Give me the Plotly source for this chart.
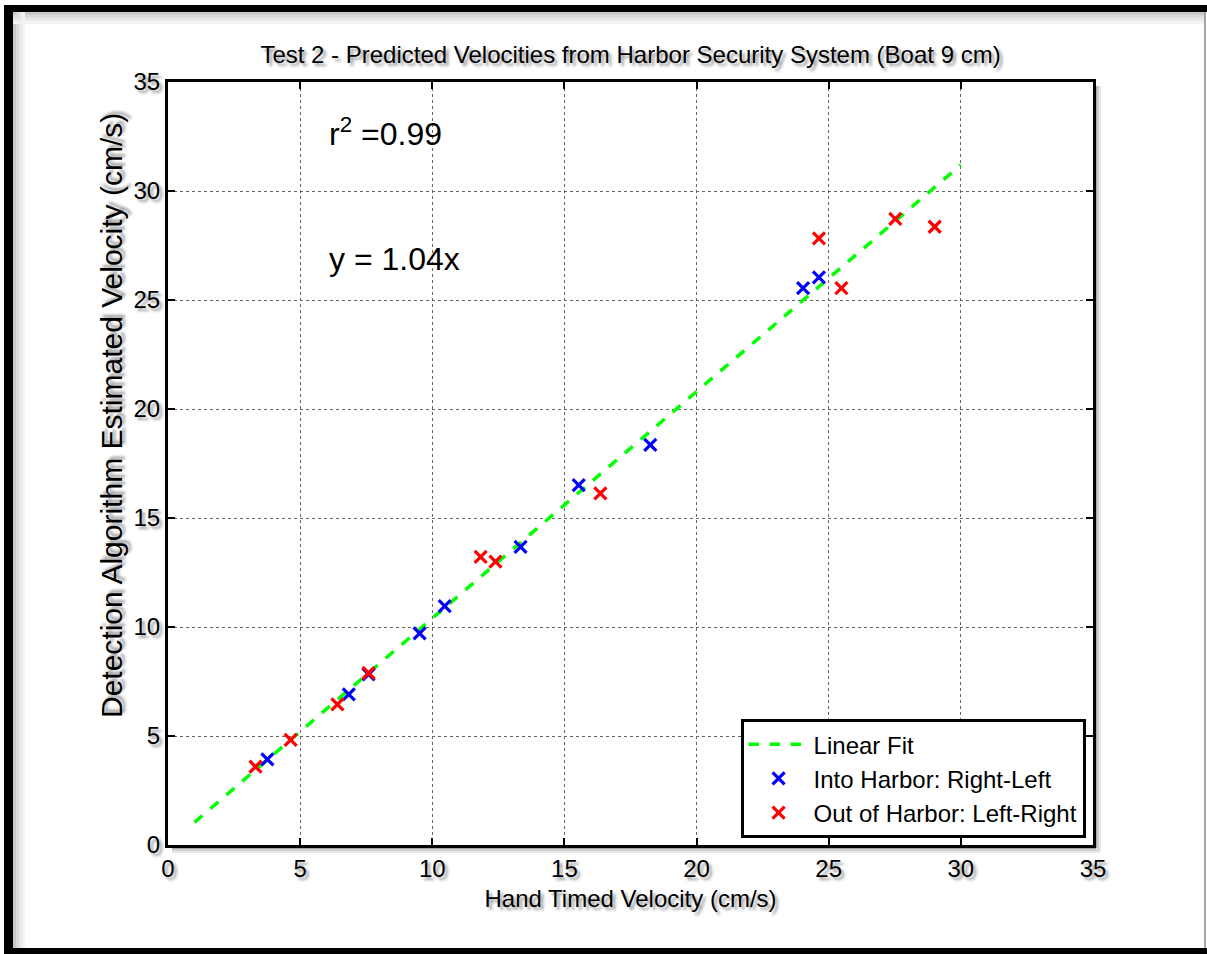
import plotly.graph_objects as go

# ---- data ----
into_x = [3.76, 6.84, 7.59, 9.52, 10.47, 13.34, 15.54, 18.25, 24.03, 24.63]
into_y = [3.93, 6.91, 7.83, 9.71, 10.96, 13.68, 16.51, 18.35, 25.54, 26.04]
out_x = [3.31, 4.64, 6.41, 7.59, 11.83, 12.39, 16.36, 24.63, 25.48, 27.52, 29.01]
out_y = [3.59, 4.82, 6.45, 7.89, 13.22, 13.00, 16.13, 27.83, 25.54, 28.72, 28.36]
fit_x = [1, 30]
fit_y = [1.04, 31.2]
tick_vals = [0, 5, 10, 15, 20, 25, 30, 35]

TITLE = "Test 2 - Predicted Velocities from Harbor Security System (Boat 9 cm)"
XLABEL = "Hand Timed Velocity (cm/s)"
YLABEL = "Detection Algorithm Estimated Velocity (cm/s)"

W, H = 1207, 954
L, R, T, B = 168, 1093, 82, 845

FONT = "Liberation Sans, Arial, sans-serif"
SHADOW = "3px 3px 3px #9a9a9a"


def px(x):
    return (x - L) / (R - L)


def py(y):
    return (B - y) / (B - T)


fig = go.Figure()
fig.add_trace(go.Scatter(
    x=fit_x, y=fit_y, mode="lines", name="Linear Fit",
    line=dict(color="#00ff00", width=3.5, dash="dash"),
))
fig.add_trace(go.Scatter(
    x=into_x, y=into_y, mode="markers", name="Into Harbor: Right-Left",
    marker=dict(symbol="x-thin", size=12, color="#0000ff",
                line=dict(color="#0000ff", width=3.2)),
))
fig.add_trace(go.Scatter(
    x=out_x, y=out_y, mode="markers", name="Out of Harbor: Left-Right",
    marker=dict(symbol="x-thin", size=12, color="#ff0000",
                line=dict(color="#ff0000", width=3.2)),
))

axis_common = dict(
    range=[0, 35], tickvals=tick_vals, ticktext=[str(v) for v in tick_vals],
    showline=True, linecolor="black", linewidth=3, mirror="ticks",
    ticks="inside", ticklen=7, tickwidth=2, tickcolor="black",
    showgrid=True, gridcolor="#666666", gridwidth=1, griddash="dot",
    zeroline=False,
    tickfont=dict(family=FONT, size=24, color="black", shadow=SHADOW),
)

fig.update_xaxes(**axis_common,
                 title=dict(text=XLABEL, standoff=10,
                            font=dict(family=FONT, size=24, color="black", shadow=SHADOW)))
fig.update_yaxes(**axis_common)

shapes = []
# outer frame: thick black left / top / bottom bands, thin grey right edge
shade = ["#c8c8c8", "#dadada", "#e8e8e8", "#f3f3f3"]
for i, c in enumerate(shade):
    shapes.append(dict(type="rect", xref="paper", yref="paper",
                       x0=px(13 + 3 * i), x1=px(16 + 3 * i), y0=py(948), y1=py(12),
                       fillcolor=c, line_width=0, layer="below"))
    shapes.append(dict(type="rect", xref="paper", yref="paper",
                       x0=px(13), x1=px(1205), y0=py(12 + 3 * i), y1=py(15 + 3 * i),
                       fillcolor=c, line_width=0, layer="below"))
shapes += [
    dict(type="rect", xref="paper", yref="paper", x0=px(4), x1=px(13),
         y0=py(954), y1=py(5), fillcolor="black", line_width=0),
    dict(type="rect", xref="paper", yref="paper", x0=px(4), x1=px(1207),
         y0=py(12), y1=py(5), fillcolor="black", line_width=0),
    dict(type="rect", xref="paper", yref="paper", x0=px(4), x1=px(1207),
         y0=py(954), y1=py(948), fillcolor="black", line_width=0),
    dict(type="line", xref="paper", yref="paper", x0=px(1205), x1=px(1205),
         y0=py(948), y1=py(12), line=dict(color="#888888", width=1.5)),
]
# soft shadow of the axes box (right and bottom)
for i, c in enumerate(["#a8a8a8", "#cfcfcf", "#e8e8e8"]):
    off = 3 + 2 * i
    shapes.append(dict(type="line", xref="paper", yref="paper",
                       x0=px(R + off), x1=px(R + off), y0=py(B + off), y1=py(T + 4),
                       line=dict(color=c, width=2), layer="below"))
    shapes.append(dict(type="line", xref="paper", yref="paper",
                       x0=px(L + 4), x1=px(R + off), y0=py(B + off), y1=py(B + off),
                       line=dict(color=c, width=2), layer="below"))

fig.update_layout(
    width=W, height=H,
    margin=dict(l=L, r=W - R, t=T, b=H - B, pad=0),
    paper_bgcolor="white", plot_bgcolor="white",
    font=dict(family=FONT, size=24, color="black"),
    title=dict(text=TITLE, x=0.5, xanchor="center", y=1 - 55 / H, yanchor="middle",
               xref="paper",
               font=dict(family=FONT, size=24, color="black", shadow=SHADOW)),
    showlegend=True,
    legend=dict(x=0.992, y=0.009, xanchor="right", yanchor="bottom",
                bgcolor="white", bordercolor="black", borderwidth=3,
                font=dict(family=FONT, size=24, color="black"),
                itemwidth=60, tracegroupgap=0),
    annotations=[
        dict(x=px(111), y=py(416), xref="paper", yref="paper",
             xanchor="center", yanchor="middle", textangle=-90,
             text=YLABEL, showarrow=False,
             font=dict(family=FONT, size=30, color="black", shadow=SHADOW)),
        dict(x=6.0, y=32.7, xref="x", yref="y", xanchor="left", yanchor="middle",
             text="r<sup>2</sup> =0.99", showarrow=False,
             font=dict(family=FONT, size=32, color="black")),
        dict(x=6.0, y=26.9, xref="x", yref="y", xanchor="left", yanchor="middle",
             text="y = 1.04x", showarrow=False,
             font=dict(family=FONT, size=32, color="black")),
    ],
    shapes=shapes,
)

fig.write_html("out.html")
